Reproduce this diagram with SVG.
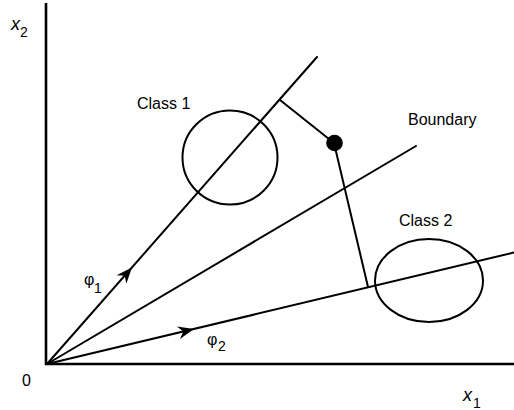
<svg xmlns="http://www.w3.org/2000/svg" width="514" height="410" viewBox="0 0 514 410">
<style>
.ln{stroke:#000;stroke-width:2;fill:none;stroke-linecap:round}
.ax{stroke:#000;stroke-width:2.6;fill:none}
.t{font-family:"Liberation Sans",Arial,sans-serif;font-size:16px;fill:#000}
.v{font-family:"Liberation Sans",Arial,sans-serif;font-style:italic;font-size:18px;fill:#000}
.s{font-family:"Liberation Sans",Arial,sans-serif;font-size:14px;fill:#000}
</style>
<defs>
<path id="ah" d="M0,0 L-16,-6.5 L-11,0 L-16,6.5 Z" fill="#000"/>
</defs>
<rect width="514" height="410" fill="#fff"/>
<g id="axes">
<line class="ax" x1="46" y1="3" x2="46" y2="365"/>
<line class="ax" x1="45" y1="364" x2="514" y2="364"/>
<text class="v" x="11" y="30">x</text><text class="s" x="20" y="37">2</text>
<text class="v" x="463" y="401">x</text><text class="s" x="473" y="408">1</text>
<text class="t" x="22" y="386">0</text>
</g>
<g id="connectors">
<line id="phi1" class="ln" x1="47" y1="364" x2="317" y2="57"/>
<line id="boundary" class="ln" x1="47" y1="364" x2="416" y2="146"/>
<line id="phi2" class="ln" x1="47" y1="364" x2="514" y2="252.5"/>
<line class="ln" x1="280" y1="100" x2="334" y2="143"/>
<line class="ln" x1="334" y1="143" x2="368" y2="287"/>
<use href="#ah" transform="translate(132,267.5) rotate(-48.7)"/>
<use href="#ah" transform="translate(194,329) rotate(-13.4)"/>
</g>
<g id="class1">
<ellipse class="ln" cx="230" cy="157.5" rx="47.5" ry="47"/>
<text class="t" x="137" y="109">Class 1</text>
</g>
<g id="class2">
<ellipse class="ln" cx="429" cy="280.5" rx="54" ry="41.5"/>
<text class="t" x="399" y="226">Class 2</text>
</g>
<g id="point">
<circle cx="334.5" cy="143" r="8.3" fill="#000"/>
</g>
<g id="labels">
<text class="t" x="408" y="125">Boundary</text>
<text class="t" x="84" y="285">φ</text><text class="s" x="94" y="293">1</text>
<text class="t" x="207" y="345">φ</text><text class="s" x="218" y="351">2</text>
</g>
</svg>
